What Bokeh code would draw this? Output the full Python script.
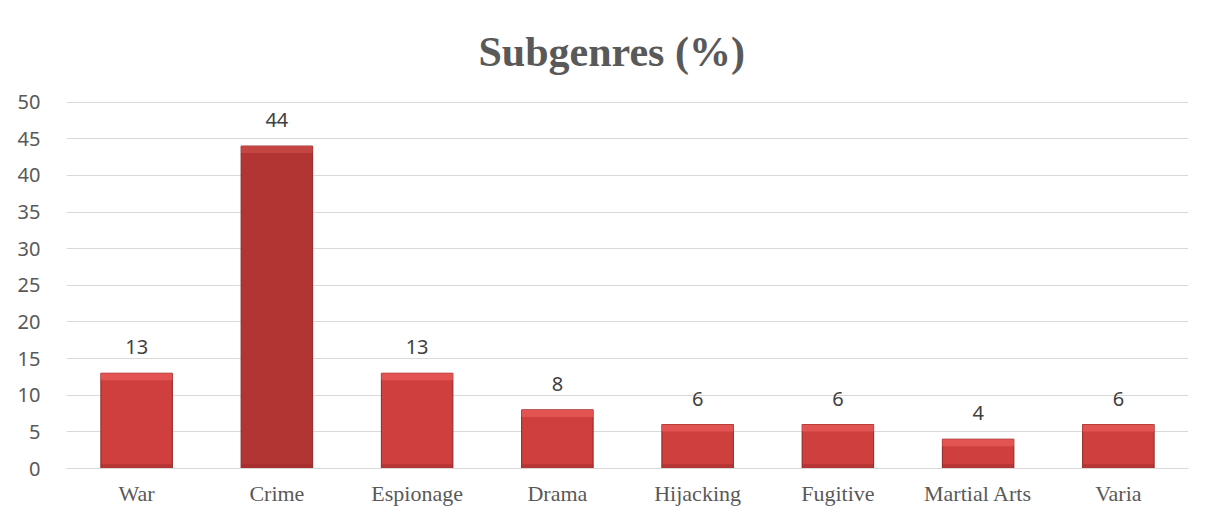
from bokeh.plotting import figure
from bokeh.models import ColumnDataSource, Range1d, FixedTicker, Title
from bokeh.embed import file_html
from bokeh.resources import INLINE
from bokeh.core.properties import value

categories = ["War", "Crime", "Espionage", "Drama", "Hijacking", "Fugitive", "Martial Arts", "Varia"]
shares = [13, 44, 13, 8, 6, 6, 4, 6]
bar_colors = ["#cf3f3e", "#b23433", "#cf3f3e", "#cf3f3e", "#cf3f3e", "#cf3f3e", "#cf3f3e", "#cf3f3e"]
top_colors = ["#e25451", "#c54543", "#e25451", "#e25451", "#e25451", "#e25451", "#e25451", "#e25451"]
y_ticks = [0, 5, 10, 15, 20, 25, 30, 35, 40, 45, 50]

Y_MAX = 50
bevel = Y_MAX * 7 / 366.0
src = ColumnDataSource(dict(
    cat=categories, val=shares, col=bar_colors, topcol=top_colors,
    bev_bottom=[v - bevel for v in shares],
    base_top=[bevel * 0.6 for v in shares],
    lab=[str(v) for v in shares],
))

p = figure(x_range=categories, y_range=Range1d(0, Y_MAX + 0.08), width=1198, height=509,
           output_backend="svg", toolbar_location=None,
           min_border_left=66, min_border_right=10, min_border_top=101, min_border_bottom=41)
p.x_range.range_padding = 0
p.outline_line_color = None
p.background_fill_color = "white"
p.border_fill_color = "white"

p.title = Title(text="Subgenres (%)", align="left", text_font="Liberation Serif",
                text_font_size="42px", text_font_style="bold", text_color="#595959",
                standoff=53, offset=412)

p.vbar(x="cat", top="val", bottom=0, width=0.51, source=src, fill_color="col",
       line_color="#8f2525", line_width=1)
p.vbar(x="cat", top="val", bottom="bev_bottom", width=0.51, source=src, fill_color="topcol",
       line_color=None)
p.vbar(x="cat", top="base_top", bottom=0, width=0.51, source=src, fill_color="#9c2c2b",
       fill_alpha=0.5, line_color=None)

p.text(x="cat", y="val", text="lab", source=src, text_align="center", text_baseline="alphabetic",
       y_offset=-26, text_font=value("Noto Sans"), text_font_size="20px", text_color="#404040")

p.yaxis.ticker = FixedTicker(ticks=y_ticks)
p.yaxis.axis_line_color = None
p.yaxis.major_tick_line_color = None
p.yaxis.minor_tick_line_color = None
p.yaxis.major_label_standoff = 20
p.yaxis.major_label_text_font = "Noto Sans"
p.yaxis.major_label_text_font_size = "20px"
p.yaxis.major_label_text_color = "#595959"

p.xaxis.axis_line_color = "#d9d9d9"
p.xaxis.axis_line_width = 1
p.xaxis.major_tick_line_color = None
p.xaxis.minor_tick_line_color = None
p.xaxis.major_label_standoff = 6
p.xaxis.major_label_text_font = "Liberation Serif"
p.xaxis.major_label_text_font_size = "22px"
p.xaxis.major_label_text_color = "#595959"

p.xgrid.grid_line_color = None
p.ygrid.grid_line_color = "#d9d9d9"
p.ygrid.grid_line_width = 1

open("out.html", "w").write(file_html(p, INLINE))
